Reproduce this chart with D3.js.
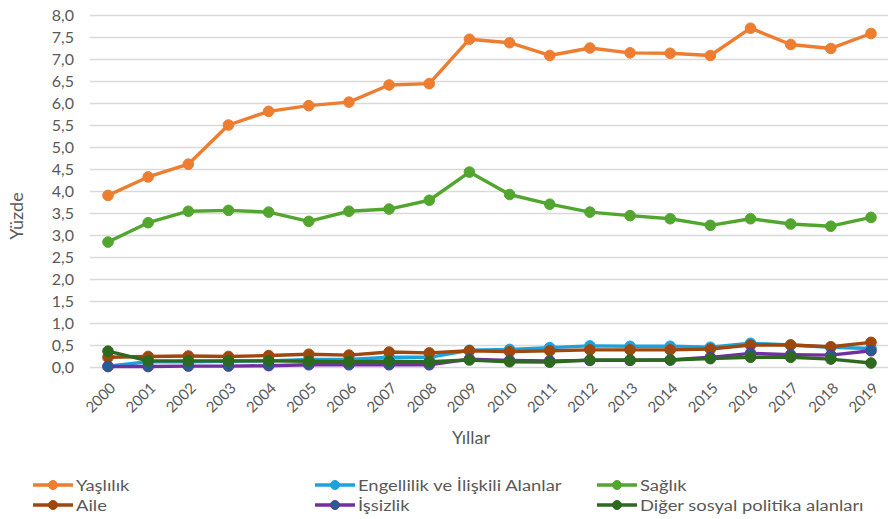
<!DOCTYPE html>
<html>
<head>
<meta charset="utf-8">
<script src="https://cdn.jsdelivr.net/npm/d3@7"></script>
<style>
  body { margin: 0; background: #fff; }
  svg text { font-family: Lato, "Open Sans", sans-serif; fill: #595959; }
</style>
</head>
<body>
<div id="chart"></div>
<script>
// years on the category axis
var years = ["2000", "2001", "2002", "2003", "2004", "2005", "2006", "2007", "2008", "2009",
    "2010", "2011", "2012", "2013", "2014", "2015", "2016", "2017", "2018", "2019"];

var yasliliK = [3.90, 4.32, 4.61, 5.50, 5.81, 5.94, 6.02, 6.41, 6.44, 7.45,
    7.37, 7.08, 7.25, 7.14, 7.13, 7.08, 7.70, 7.33, 7.24, 7.58];
var engellilik = [0.02, 0.12, 0.12, 0.13, 0.14, 0.17, 0.17, 0.22, 0.22, 0.38,
    0.40, 0.44, 0.48, 0.47, 0.47, 0.45, 0.54, 0.50, 0.45, 0.42];
var saglik = [2.84, 3.28, 3.54, 3.56, 3.52, 3.31, 3.54, 3.59, 3.79, 4.43,
    3.92, 3.70, 3.52, 3.44, 3.37, 3.22, 3.37, 3.25, 3.20, 3.40];
var aile = [0.22, 0.24, 0.25, 0.24, 0.26, 0.29, 0.27, 0.34, 0.32, 0.37,
    0.35, 0.37, 0.39, 0.39, 0.39, 0.41, 0.50, 0.50, 0.46, 0.56];
var issizlik = [0.01, 0.01, 0.02, 0.02, 0.03, 0.05, 0.05, 0.05, 0.05, 0.18,
    0.15, 0.14, 0.15, 0.15, 0.16, 0.22, 0.31, 0.28, 0.27, 0.37];
var diger = [0.36, 0.14, 0.14, 0.14, 0.14, 0.13, 0.12, 0.13, 0.12, 0.16,
    0.12, 0.11, 0.16, 0.16, 0.16, 0.19, 0.22, 0.22, 0.18, 0.09];

var yTicks = [0, 0.5, 1, 1.5, 2, 2.5, 3, 3.5, 4, 4.5, 5, 5.5, 6, 6.5, 7, 7.5, 8];

var seriesNames = ["Yaşlılık", "Engellilik ve İlişkili Alanlar", "Sağlık", "Aile", "İşsizlik", "Diğer sosyal politika alanları"];
var seriesValues = [yasliliK, engellilik, saglik, aile, issizlik, diger];
var lineColors = ["#ed7d31", "#1ca3dd", "#52a62f", "#9e480e", "#7030a0", "#2d6a1f"];
var dotColors = ["#ed7d31", "#1ca3dd", "#52a62f", "#9e480e", "#255e91", "#2d6a1f"];

var width = 888, height = 519;
var svg = d3.select("#chart").append("svg")
    .attr("width", width)
    .attr("height", height);

var x = d3.scalePoint().domain(years).range([108, 871]);
var y = d3.scaleLinear().domain([0, 8]).range([367, 15]);

// grid
svg.append("g").attr("class", "grid")
    .selectAll("line")
    .data(yTicks)
    .enter().append("line")
    .attr("x1", 90).attr("x2", 888)
    .attr("y1", function (d) { return Math.round(y(d)) + 0.5; })
    .attr("y2", function (d) { return Math.round(y(d)) + 0.5; })
    .attr("stroke", "#d9d9d9")
    .attr("stroke-width", 1.5);

// y axis labels
var yAxis = d3.axisLeft(y).tickValues(yTicks).tickSize(0).tickPadding(0)
    .tickFormat(function (d) { return d3.format(".1f")(d).replace(".", ","); });
var yg = svg.append("g").attr("transform", "translate(74,0)").call(yAxis);
yg.select(".domain").remove();
yg.selectAll("text").style("font-size", "16px").attr("fill", "#595959");

// x axis labels
var xAxis = d3.axisBottom(x).tickSize(0).tickPadding(0);
var xg = svg.append("g").attr("transform", "translate(0,367)").call(xAxis);
xg.select(".domain").remove();
xg.selectAll("text")
    .style("font-size", "15px")
    .attr("fill", "#595959")
    .attr("text-anchor", "end")
    .attr("dy", "0")
    .attr("y", 0)
    .attr("transform", "translate(8,22) rotate(-45)");

// axis titles
svg.append("text")
    .attr("x", 471).attr("y", 444)
    .attr("text-anchor", "middle")
    .style("font-size", "18px")
    .text("Yıllar");

svg.append("text")
    .attr("transform", "translate(23,216) rotate(-90)")
    .attr("text-anchor", "middle")
    .style("font-size", "18px")
    .text("Yüzde");

// lines
var line = d3.line()
    .x(function (d, i) { return x(years[i]); })
    .y(function (d) { return y(d); });

seriesValues.forEach(function (vals, k) {
    var g = svg.append("g").attr("class", "series");
    g.append("path")
        .datum(vals)
        .attr("d", line)
        .attr("fill", "none")
        .attr("stroke", lineColors[k])
        .attr("stroke-width", 3.4)
        .attr("stroke-linejoin", "round");
    g.selectAll("circle")
        .data(vals)
        .enter().append("circle")
        .attr("cx", function (d, i) { return x(years[i]); })
        .attr("cy", function (d) { return y(d); })
        .attr("r", 5.3)
        .attr("fill", dotColors[k])
        .attr("stroke", lineColors[k])
        .attr("stroke-width", 1);
});

// legend, three equal columns like excel does it
var legendPos = [[33, 485], [315, 485], [597, 485], [33, 505], [315, 505], [597, 505]];
var legend = svg.append("g").attr("class", "legend")
    .selectAll("g")
    .data(seriesNames)
    .enter().append("g")
    .attr("transform", function (d, i) { return "translate(" + legendPos[i][0] + "," + legendPos[i][1] + ")"; });

legend.append("line")
    .attr("x1", 0).attr("x2", 40)
    .attr("y1", 0).attr("y2", 0)
    .attr("stroke", function (d, i) { return lineColors[i]; })
    .attr("stroke-width", 3.4);
legend.append("circle")
    .attr("cx", 20).attr("cy", 0).attr("r", 4.5)
    .attr("fill", function (d, i) { return dotColors[i]; })
    .attr("stroke", function (d, i) { return lineColors[i]; });
// source picture is a bit stretched sideways, so stretch the legend text too
legend.append("text")
    .attr("transform", "translate(43,5.5) scale(1.15,1)")
    .style("font-size", "16px")
    .text(function (d) { return d; });
</script>
</body>
</html>
